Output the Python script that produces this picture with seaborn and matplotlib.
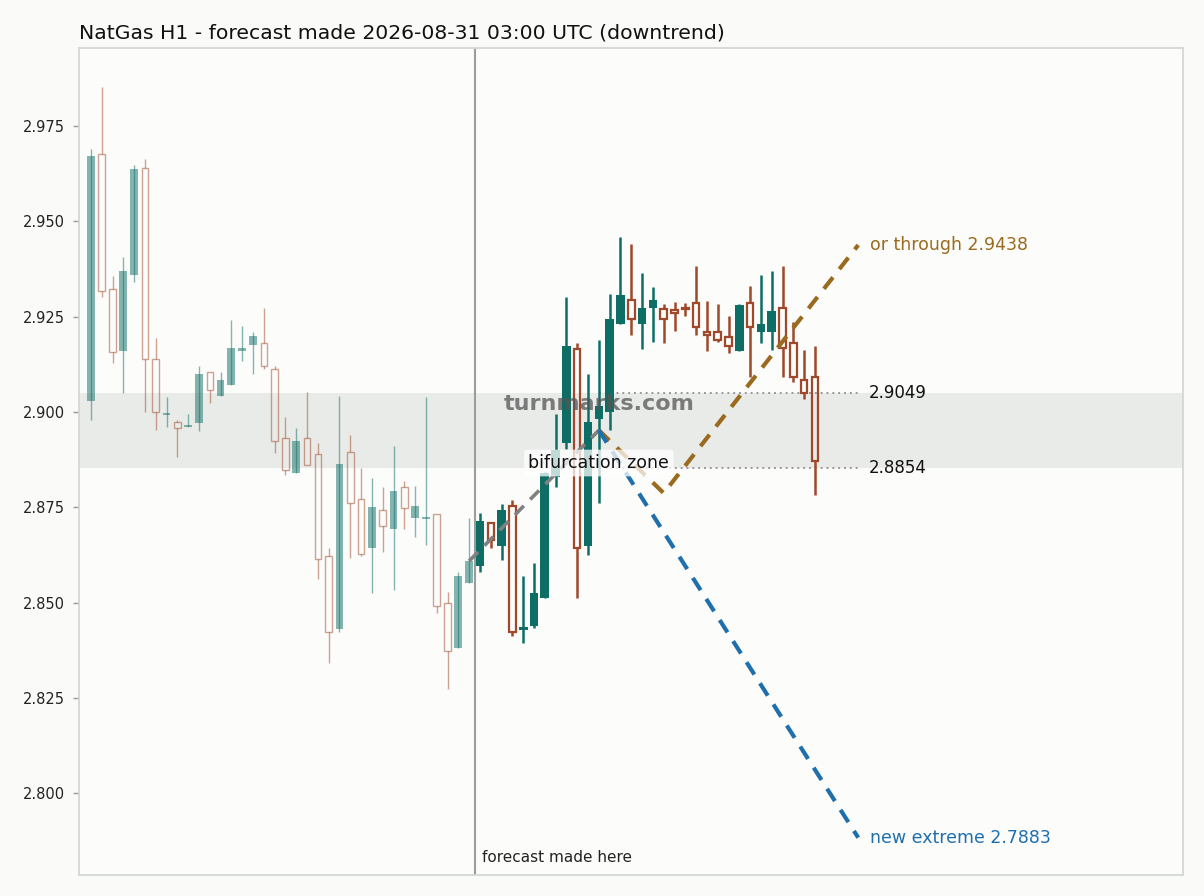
import numpy as np
import pandas as pd
import matplotlib
matplotlib.use("Agg")
import matplotlib.pyplot as plt
import seaborn as sns

# ---------------- data ----------------
opens = [2.9029, 2.9678, 2.9322, 2.9160, 2.9360, 2.9639, 2.9138, 2.8992, 2.8973, 2.8961,
         2.8972, 2.9104, 2.9041, 2.9072, 2.9160, 2.9177, 2.9180, 2.9112, 2.8931, 2.8840,
         2.8931, 2.8889, 2.8622, 2.8430, 2.8895, 2.8771, 2.8642, 2.8742, 2.8692, 2.8802,
         2.8722, 2.8720, 2.8731, 2.8500, 2.8380, 2.8552,
         2.8597, 2.8709, 2.8649, 2.8754, 2.8427, 2.8439, 2.8511, 2.8830, 2.8919, 2.9165,
         2.8649, 2.8981, 2.9000, 2.9230, 2.9295, 2.9230, 2.9272, 2.9269, 2.9267, 2.9274,
         2.9285, 2.9210, 2.9210, 2.9196, 2.9160, 2.9285, 2.9210, 2.9210, 2.9273, 2.9181,
         2.9084, 2.9091]
closes = [2.9671, 2.9318, 2.9158, 2.9370, 2.9637, 2.9140, 2.9000, 2.8996, 2.8959, 2.8963,
          2.9099, 2.9057, 2.9083, 2.9167, 2.9168, 2.9199, 2.9120, 2.8924, 2.8849, 2.8923,
          2.8862, 2.8613, 2.8422, 2.8863, 2.8762, 2.8627, 2.8750, 2.8701, 2.8792, 2.8748,
          2.8753, 2.8722, 2.8492, 2.8372, 2.8569, 2.8609,
          2.8714, 2.8664, 2.8742, 2.8422, 2.8436, 2.8524, 2.8839, 2.8900, 2.9173, 2.8642,
          2.8973, 2.9015, 2.9243, 2.9307, 2.9243, 2.9274, 2.9295, 2.9243, 2.9259, 2.9269,
          2.9222, 2.9202, 2.9189, 2.9173, 2.9280, 2.9222, 2.9230, 2.9265, 2.9169, 2.9091,
          2.9051, 2.8871]
highs = [2.9691, 2.9852, 2.9357, 2.9407, 2.9648, 2.9663, 2.9193, 2.9038, 2.8980, 2.8994,
         2.9121, 2.9104, 2.9104, 2.9241, 2.9226, 2.9209, 2.9272, 2.9120, 2.8988, 2.8957,
         2.9053, 2.8919, 2.8642, 2.9042, 2.8939, 2.8852, 2.8828, 2.8802, 2.8910, 2.8819,
         2.8806, 2.9038, 2.8731, 2.8528, 2.8581, 2.8723,
         2.8735, 2.8709, 2.8758, 2.8769, 2.8569, 2.8603, 2.8843, 2.8994, 2.9301, 2.9181,
         2.9099, 2.9189, 2.9309, 2.9460, 2.9440, 2.9365, 2.9327, 2.9283, 2.9289, 2.9286,
         2.9383, 2.9291, 2.9283, 2.9251, 2.9283, 2.9330, 2.9359, 2.9370, 2.9383, 2.9237,
         2.9162, 2.9173]
lows = [2.8980, 2.9301, 2.9129, 2.9049, 2.9340, 2.9001, 2.8952, 2.8961, 2.8882, 2.8961,
        2.8950, 2.9024, 2.9041, 2.9072, 2.9133, 2.9099, 2.9112, 2.8891, 2.8834, 2.8840,
        2.8862, 2.8561, 2.8340, 2.8422, 2.8617, 2.8622, 2.8524, 2.8632, 2.8533, 2.8692,
        2.8671, 2.8651, 2.8473, 2.8273, 2.8380, 2.8552,
        2.8581, 2.8644, 2.8611, 2.8413, 2.8393, 2.8434, 2.8511, 2.8802, 2.8902, 2.8512,
        2.8624, 2.8762, 2.8952, 2.9230, 2.9202, 2.9164, 2.9184, 2.9181, 2.9213, 2.9251,
        2.9202, 2.9160, 2.9184, 2.9155, 2.9160, 2.9092, 2.9181, 2.9162, 2.9092, 2.9079,
        2.9033, 2.8782]
n_history = 36          # candles before the forecast mark

zone_low, zone_high = 2.8854, 2.9049
lead_x, lead_y = [35, 47], [2.8609, 2.8952]
up_x, up_y = [47, 53, 71], [2.8952, 2.8787, 2.9438]
down_x, down_y = [47, 71], [2.8952, 2.7883]
yticks = [2.800, 2.825, 2.850, 2.875, 2.900, 2.925, 2.950, 2.975]

title = "NatGas H1 - forecast made 2026-08-31 03:00 UTC (downtrend)"

# ---------------- style ----------------
sns.set_theme(style="white")
plt.rcParams["font.family"] = ["DejaVu Sans"]

FIG_BG = "#fafaf8"
AX_BG = "#fcfcfb"
TEAL = "#0e6e66"
RUST = "#a0482a"
BROWN = "#9a6a1e"
BLUE = "#1f6fad"

fig = plt.figure(figsize=(12.04, 8.96), dpi=100, facecolor=FIG_BG)
ax = fig.add_axes([79 / 1204, 21 / 896, (1183 - 79) / 1204, (875 - 48) / 896])
ax.set_facecolor(AX_BG)

ax.axhspan(zone_low, zone_high, color="#e9ebe8", zorder=0, lw=0)

df = pd.DataFrame({"o": opens, "h": highs, "l": lows, "c": closes})
df["i"] = np.arange(len(df))

for _, r in df.iterrows():
    i = r["i"]
    hist = i < n_history
    up = r["c"] >= r["o"]
    top, bot = max(r["o"], r["c"]), min(r["o"], r["c"])
    alpha = 0.5 if hist else 1.0
    wlw = 1.0 if hist else 1.8
    if up:
        ax.vlines(i, r["l"], r["h"], color=TEAL, lw=wlw, alpha=alpha, zorder=2)
        ax.bar(i, max(top - bot, 0.0004), bottom=bot, width=0.8 if not hist else 0.72,
               color=TEAL, alpha=alpha, zorder=3, lw=0)
    else:
        if r["h"] > top:
            ax.vlines(i, top, r["h"], color=RUST, lw=wlw, alpha=alpha, zorder=2)
        if r["l"] < bot:
            ax.vlines(i, r["l"], bot, color=RUST, lw=wlw, alpha=alpha, zorder=2)
        ax.bar(i, max(top - bot, 0.0004), bottom=bot, width=0.6,
               facecolor="none", edgecolor=RUST, lw=1.0 if hist else 1.6,
               alpha=alpha, zorder=3)

# forecast mark
ax.axvline(35.5, color="#9a9e9b", lw=1.5, zorder=1)
ax.text(35.5 + 0.7, 0.012, "forecast made here", transform=ax.get_xaxis_transform(),
        fontsize=11, color="#222222", ha="left", va="bottom")

# projection lines
sns.lineplot(x=lead_x, y=lead_y, ax=ax, color="#808080", lw=2.6,
             linestyle=(0, (3.5, 2.5)), zorder=4)
sns.lineplot(x=up_x, y=up_y, ax=ax, color=BROWN, lw=3, linestyle=(0, (3.5, 2.5)),
             zorder=4, sort=False)
sns.lineplot(x=down_x, y=down_y, ax=ax, color=BLUE, lw=3, linestyle=(0, (3.5, 2.5)),
             zorder=4)

# zone edges
for v in (zone_high, zone_low):
    ax.plot([47, 71], [v, v], color="#999999", lw=1.4, linestyle=(0, (1, 2)), zorder=1)
    ax.text(72, v, f"{v:.4f}", fontsize=12, color="#111111", ha="left", va="center")

ax.text(72.1, up_y[-1], f"or through {up_y[-1]:.4f}", fontsize=12.5, color=BROWN,
        ha="left", va="center")
ax.text(72.1, down_y[-1], f"new extreme {down_y[-1]:.4f}", fontsize=12.5, color=BLUE,
        ha="left", va="center")

ax.text(47, 2.8866, "bifurcation zone", fontsize=12.5, color="#111111",
        ha="center", va="center", zorder=6,
        bbox=dict(boxstyle="round,pad=0.25,rounding_size=0.2", fc="white",
                  ec="none", alpha=0.75))
ax.text(47, 2.9021, "turnmarks.com", fontsize=16, fontweight="bold", color="#555555",
        alpha=0.75, ha="center", va="center", zorder=7)

# axes
ax.set_xlim(-1.1, 101.05)
ax.set_ylim(2.7785, 2.9955)
ax.set_xticks([])
ax.set_yticks(yticks)
ax.set_yticklabels([f"{t:.3f}" for t in yticks], fontsize=10.5, color="#222222")
ax.tick_params(axis="y", length=4, width=1, color="#999999", left=True, pad=6)
ax.set_xlabel("")
ax.set_ylabel("")
for s in ax.spines.values():
    s.set_color("#d3d8d5")
    s.set_linewidth(1.3)

ax.set_title(title, loc="left", fontsize=14.7, color="#111111", pad=7)

fig.savefig("out.png", dpi=100, facecolor=FIG_BG)
